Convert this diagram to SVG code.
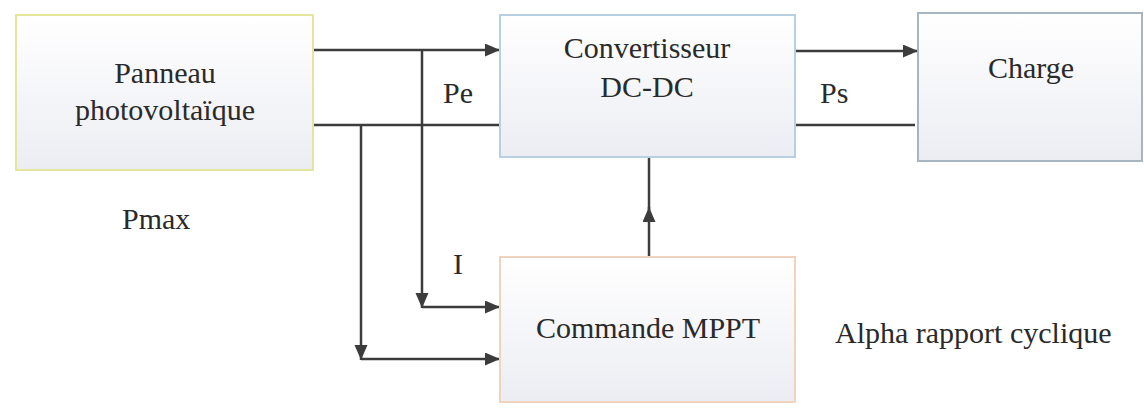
<svg xmlns="http://www.w3.org/2000/svg" width="1144" height="410" viewBox="0 0 1144 410">
  <defs>
    <linearGradient id="gfill" x1="0" y1="0" x2="0" y2="1">
      <stop offset="0" stop-color="#ffffff"/>
      <stop offset="1" stop-color="#ecedf3"/>
    </linearGradient>
    <marker id="arr" markerUnits="userSpaceOnUse" markerWidth="16" markerHeight="14" refX="15" refY="6.5" orient="auto">
      <path d="M0,0 L15,6.5 L0,13 z" fill="#3c3c3c"/>
    </marker>
  </defs>
  <style>
    .box { fill: url(#gfill); stroke-width: 2; }
    .pv { stroke: #e4e69c; }
    .conv { stroke: #b8cfe2; }
    .chg { stroke: #a6b5c2; }
    .mppt { stroke: #efd3bf; }
    .wire { fill: none; stroke: #3c3c3c; stroke-width: 2.5; }
    .t { font-family: 'Liberation Serif', 'DejaVu Serif', serif; font-size: 30px; fill: #2a2a2a; }
  </style>
  <rect width="1144" height="410" fill="#ffffff"/>

  <g id="connectors">
    <path class="wire" d="M313 50 H500" marker-end="url(#arr)"/>
    <path class="wire" d="M313 125 H510"/>
    <path class="wire" d="M795 51 H918" marker-end="url(#arr)"/>
    <path class="wire" d="M795 125 H915"/>
    <path class="wire" d="M422 50 V308" marker-end="url(#arr)"/>
    <path class="wire" d="M422 307 H500" marker-end="url(#arr)"/>
    <path class="wire" d="M361 125 V360" marker-end="url(#arr)"/>
    <path class="wire" d="M361 359 H500" marker-end="url(#arr)"/>
    <path class="wire" d="M649 257 V207" marker-end="url(#arr)"/>
    <path class="wire" d="M649 210 V157"/>
  </g>

  <g id="panneau">
    <rect class="box pv" x="16" y="15" width="297" height="155"/>
    <text class="t" font-family="Liberation Serif, serif" x="165" y="83" text-anchor="middle">Panneau</text>
    <text class="t" font-family="Liberation Serif, serif" x="165" y="120" text-anchor="middle">photovoltaïque</text>
  </g>

  <g id="convertisseur">
    <rect class="box conv" x="500" y="15" width="295" height="142"/>
    <text class="t" font-family="Liberation Serif, serif" x="647" y="58" text-anchor="middle">Convertisseur</text>
    <text class="t" font-family="Liberation Serif, serif" x="647" y="97" text-anchor="middle">DC-DC</text>
  </g>

  <g id="charge">
    <rect class="box chg" x="918" y="13" width="224" height="148"/>
    <text class="t" font-family="Liberation Serif, serif" x="1031" y="78" text-anchor="middle">Charge</text>
  </g>

  <g id="mppt">
    <rect class="box mppt" x="500" y="257" width="295" height="145"/>
    <text class="t" font-family="Liberation Serif, serif" x="648" y="338" text-anchor="middle">Commande MPPT</text>
  </g>

  <g id="labels">
    <text class="t" font-family="Liberation Serif, serif" x="443" y="103">Pe</text>
    <text class="t" font-family="Liberation Serif, serif" x="820" y="103">Ps</text>
    <text class="t" font-family="Liberation Serif, serif" x="122" y="229">Pmax</text>
    <text class="t" font-family="Liberation Serif, serif" x="453" y="274">I</text>
    <text class="t" font-family="Liberation Serif, serif" x="835" y="343">Alpha rapport cyclique</text>
  </g>
</svg>
